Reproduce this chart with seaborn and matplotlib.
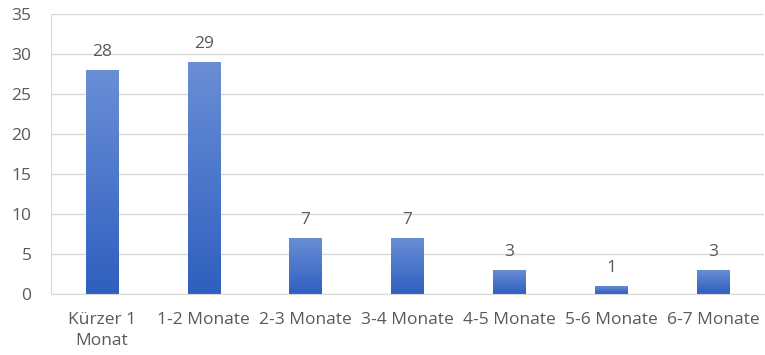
import numpy as np
import pandas as pd
import matplotlib
matplotlib.use('Agg')
import matplotlib.pyplot as plt
import seaborn as sns
from matplotlib.colors import LinearSegmentedColormap

# Data
categories = ['Kürzer 1\nMonat', '1-2 Monate', '2-3 Monate', '3-4 Monate',
              '4-5 Monate', '5-6 Monate', '6-7 Monate']
counts = [28, 29, 7, 7, 3, 1, 3]

df = pd.DataFrame({'Dauer': categories, 'Anzahl': counts})

sns.set_style('white')
plt.rcParams['font.family'] = ['Open Sans', 'DejaVu Sans']
text_col = '#595959'
grid_col = '#d9d9d9'
fs = 12.5

fig = plt.figure(figsize=(7.65, 3.55), dpi=100)
ax = fig.add_axes([0.0667, 0.172, 0.932, 0.789])

sns.barplot(data=df, x='Dauer', y='Anzahl', color='#4472c4', width=0.32,
            ax=ax, zorder=3)

# gradient fill on each bar (lighter top, darker bottom)
cmap = LinearSegmentedColormap.from_list('g', ['#2f5fbf', '#6a8fd6'])
grad = np.linspace(0, 1, 256).reshape(-1, 1)
for p in ax.patches:
    x0, y0 = p.get_x(), p.get_y()
    w, h = p.get_width(), p.get_height()
    im = ax.imshow(grad, cmap=cmap, aspect='auto', origin='lower',
                   extent=[x0, x0 + w, y0, y0 + h], zorder=4)
    im.set_clip_path(p)
    p.set_alpha(0)

# value labels
for i, v in enumerate(counts):
    ax.text(i, v + 1.2, str(v), ha='center', va='bottom',
            fontsize=fs, color=text_col, zorder=5)

ax.set_xlim(-0.5, len(categories) - 0.5)
ax.set_ylim(0, 35)
ax.set_yticks(range(0, 36, 5))
ax.yaxis.grid(True, color=grid_col, linewidth=1, zorder=0)
ax.set_xlabel('')
ax.set_ylabel('')

# category ticks at boundaries
ax.set_xticks(np.arange(len(categories)))
ax.set_xticklabels(categories, linespacing=1.4)
ax.set_xticks(np.arange(-0.5, len(categories), 1), minor=True)
ax.tick_params(axis='x', which='major', length=0, pad=13, labelsize=fs,
               labelcolor=text_col)
ax.tick_params(axis='x', which='minor', length=5, color=grid_col, width=1,
               direction='out')
ax.tick_params(axis='y', length=0, pad=14, labelsize=fs, labelcolor=text_col)

for s in ['top', 'right']:
    ax.spines[s].set_visible(False)
ax.spines['left'].set_color(grid_col)
ax.spines['bottom'].set_color(grid_col)
ax.spines['bottom'].set_zorder(6)

fig.savefig('out.png', dpi=100)
